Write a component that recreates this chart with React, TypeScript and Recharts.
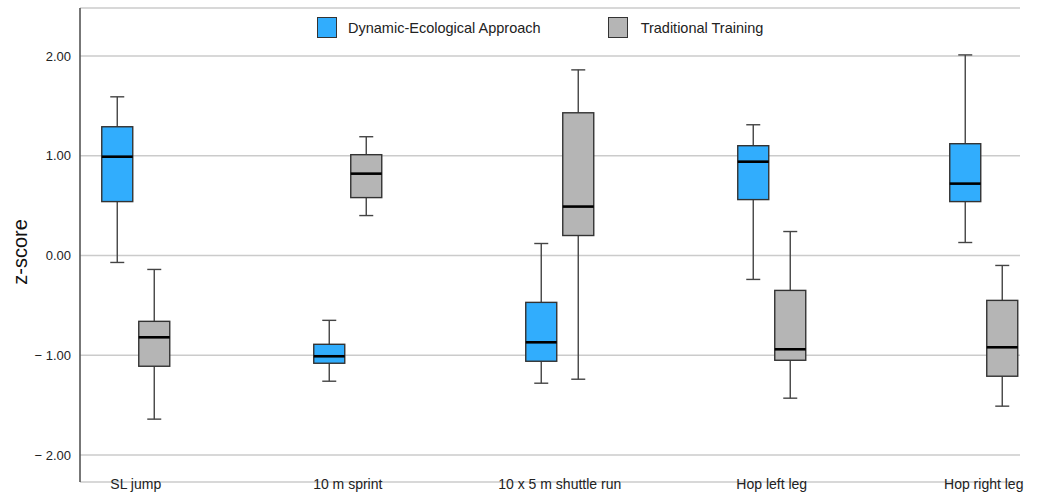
import React from 'react';
import {
  ComposedChart,
  Bar,
  XAxis,
  YAxis,
  CartesianGrid,
  Legend,
} from 'recharts';

// categories and five-number summaries (z-scores)
const categories = ['SL jump', '10 m sprint', '10 x 5 m shuttle run', 'Hop left leg', 'Hop right leg'];

const deaMin = [-0.07, -1.26, -1.28, -0.24, 0.13];
const deaQ1 = [0.54, -1.08, -1.06, 0.56, 0.54];
const deaMedian = [0.99, -1.01, -0.87, 0.94, 0.72];
const deaQ3 = [1.29, -0.89, -0.47, 1.1, 1.12];
const deaMax = [1.59, -0.65, 0.12, 1.31, 2.01];

const ttMin = [-1.64, 0.4, -1.24, -1.43, -1.51];
const ttQ1 = [-1.11, 0.58, 0.2, -1.05, -1.21];
const ttMedian = [-0.82, 0.82, 0.49, -0.94, -0.92];
const ttQ3 = [-0.66, 1.01, 1.43, -0.35, -0.45];
const ttMax = [-0.14, 1.19, 1.86, 0.24, -0.1];

const yTicks = [-2, -1, 0, 1, 2];
const xTicks = categories.map((_, i) => i);

const DEA_COLOR = '#31adfd';
const TT_COLOR = '#b5b5b5';

const data = categories.map((name, i) => ({
  idx: i,
  name,
  deaMin: deaMin[i],
  deaQ1: deaQ1[i],
  deaMedian: deaMedian[i],
  deaQ3: deaQ3[i],
  deaMax: deaMax[i],
  ttMin: ttMin[i],
  ttQ1: ttQ1[i],
  ttMedian: ttMedian[i],
  ttQ3: ttQ3[i],
  ttMax: ttMax[i],
}));

// Bar spans [min, max]; derive pixels for the other quartiles from it
const BoxShape = (props: any) => {
  const { x, y, width, height, payload, prefix, color } = props;
  const min = payload[prefix + 'Min'];
  const max = payload[prefix + 'Max'];
  const q1 = payload[prefix + 'Q1'];
  const q3 = payload[prefix + 'Q3'];
  const med = payload[prefix + 'Median'];
  const top = Math.min(y, y + height);
  const h = Math.abs(height);
  const ppu = h / (max - min);
  const py = (v: number) => top + (max - v) * ppu;
  const cx = x + width / 2;
  const cap = 7;
  return (
    <g>
      <line x1={cx} x2={cx} y1={py(max)} y2={py(q3)} stroke="#444" strokeWidth={1.4} />
      <line x1={cx} x2={cx} y1={py(q1)} y2={py(min)} stroke="#444" strokeWidth={1.4} />
      <line x1={cx - cap} x2={cx + cap} y1={py(max)} y2={py(max)} stroke="#444" strokeWidth={1.4} />
      <line x1={cx - cap} x2={cx + cap} y1={py(min)} y2={py(min)} stroke="#444" strokeWidth={1.4} />
      <rect
        x={x}
        y={py(q3)}
        width={width}
        height={py(q1) - py(q3)}
        fill={color}
        stroke="#333"
        strokeWidth={1.4}
      />
      <line x1={x} x2={x + width} y1={py(med)} y2={py(med)} stroke="#000" strokeWidth={2.6} />
    </g>
  );
};

const formatY = (v: number) => (v < 0 ? `\u2212 ${Math.abs(v).toFixed(2)}` : v.toFixed(2));

const XTick = (props: any) => {
  const { x, y, payload } = props;
  return (
    <text x={x} y={y} dy={7} textAnchor="middle" fontSize={14} fill="#222">
      {categories[payload.value]}
    </text>
  );
};

const LegendContent = () => (
  <div
    style={{
      position: 'absolute',
      left: 317,
      top: 17,
      display: 'flex',
      alignItems: 'center',
      fontSize: 14.5,
      color: '#222',
      whiteSpace: 'nowrap',
    }}
  >
    <span style={{ width: 18, height: 19, background: DEA_COLOR, border: '1.5px solid #333', marginRight: 11 }} />
    <span>Dynamic-Ecological Approach</span>
    <span
      style={{ width: 18, height: 19, background: TT_COLOR, border: '1.5px solid #333', marginLeft: 67, marginRight: 13 }}
    />
    <span>Traditional Training</span>
  </div>
);

export default function App() {
  return (
    <div style={{ position: 'absolute', left: 0, top: 0, fontFamily: '"Liberation Sans", Arial, sans-serif' }}>
      <ComposedChart
        width={1042}
        height={497}
        data={data}
        margin={{ top: 8, right: 22, bottom: 0, left: 0 }}
        barSize={31}
        barGap={6}
      >
        <CartesianGrid horizontal vertical={false} stroke="#cbcbcb" strokeWidth={1.5} />
        <XAxis
          dataKey="idx"
          type="number"
          domain={[-0.263, 4.171]}
          ticks={xTicks}
          allowDataOverflow
          axisLine={false}
          tickLine={false}
          tickSize={0}
          tickMargin={0}
          height={15}
          interval={0}
          tick={<XTick />}
        />
        <YAxis
          type="number"
          domain={[-2.27, 2.48]}
          ticks={yTicks}
          allowDataOverflow
          width={80}
          tickFormatter={formatY}
          tickLine={false}
          tickSize={0}
          tickMargin={9}
          axisLine={{ stroke: '#555', strokeWidth: 1.6 }}
          tick={{ fontSize: 13, fill: '#222' }}
          label={() => (
            <text
              x={20}
              y={252}
              transform="rotate(-90 20 252)"
              textAnchor="middle"
              dominantBaseline="central"
              fontSize={20}
              fill="#111"
            >
              z-score
            </text>
          )}
        />
        <Legend
          layout="horizontal"
          verticalAlign="middle"
          align="center"
          wrapperStyle={{ top: 0, left: 0, width: 0, height: 0 }}
          content={<LegendContent />}
        />
        <Bar
          name="Dynamic-Ecological Approach"
          dataKey={(d: any) => [d.deaMin, d.deaMax]}
          fill={DEA_COLOR}
          isAnimationActive={false}
          shape={(p: any) => <BoxShape {...p} prefix="dea" color={DEA_COLOR} />}
        />
        <Bar
          name="Traditional Training"
          dataKey={(d: any) => [d.ttMin, d.ttMax]}
          fill={TT_COLOR}
          isAnimationActive={false}
          shape={(p: any) => <BoxShape {...p} prefix="tt" color={TT_COLOR} />}
        />
      </ComposedChart>
    </div>
  );
}
